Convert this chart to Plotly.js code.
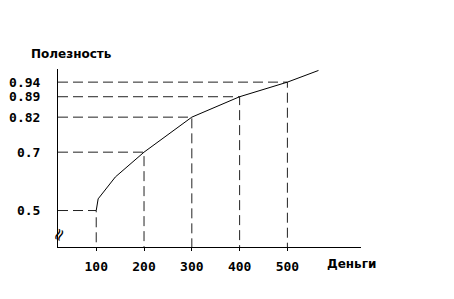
<!DOCTYPE html>
<html><head><meta charset="utf-8">
<script src="https://cdn.plot.ly/plotly-3.0.1.min.js"></script>
<style>html,body{margin:0;padding:0;background:#fff}</style>
</head><body><div id="chart" style="width:454px;height:299px"></div>
<script>
// Money values and utilities
const money = [100, 200, 300, 400, 500];
const utility = [0.5, 0.7, 0.82, 0.89, 0.94];
// hand-drawn curve (estimated reading of the drawn line)
const curveX = [100, 104, 140, 200, 300, 400, 500, 565];
const curveY = [0.5, 0.54, 0.615, 0.7, 0.82, 0.89, 0.94, 0.98];
const xTickLabels = ['100', '200', '300', '400', '500'];
const yTickLabels = ['0.5', '0.7', '0.82', '0.89', '0.94'];

const xMin = 20, xMax = 654, yMin = 0.375, yMax = 0.985;

const dx = [], dy = [];
for (let i = 0; i < money.length; i++) {
  dx.push(xMin, money[i], money[i], null);
  dy.push(utility[i], utility[i], yMin, null);
}

const tickFont = {family: 'DejaVu Sans Mono', size: 13, color: '#000', weight: 'bold'};

const data = [
  {x: dx, y: dy, mode: 'lines', line: {color: '#222', width: 1, dash: '10px,5px'}, hoverinfo: 'skip', connectgaps: false},
  {x: curveX, y: curveY, mode: 'lines', line: {color: '#000', width: 1}, hoverinfo: 'skip'}
];

const layout = {
  width: 454, height: 299,
  margin: {l: 58, r: 93, t: 69, b: 52},
  paper_bgcolor: '#fff', plot_bgcolor: '#fff',
  showlegend: false,
  xaxis: {
    range: [xMin, xMax], showgrid: false, zeroline: false,
    showline: true, linecolor: '#000', linewidth: 1,
    tickvals: money, ticktext: xTickLabels,
    ticks: 'outside', ticklen: 3, tickcolor: '#000',
    tickfont: tickFont, ticklabelstandoff: 4, fixedrange: true
  },
  yaxis: {
    range: [yMin, yMax], showgrid: false, zeroline: false,
    showline: true, linecolor: '#000', linewidth: 1,
    tickvals: utility, ticktext: yTickLabels,
    ticks: '', tickfont: tickFont, ticklabelstandoff: 14, fixedrange: true
  },
  annotations: [
    {text: 'Полезность', xref: 'paper', yref: 'paper', x: 0.043, y: 1.0, yshift: 15,
     xanchor: 'center', yanchor: 'middle', showarrow: false,
     font: {family: 'DejaVu Sans', size: 12, color: '#000', weight: 'bold'}},
    {text: 'Деньги', xref: 'paper', yref: 'paper', x: 0.97, y: 0, yshift: -17,
     xanchor: 'center', yanchor: 'middle', showarrow: false,
     font: {family: 'DejaVu Sans', size: 12, color: '#000', weight: 'bold'}},
    {text: '≈', xref: 'paper', yref: 'paper', x: 0, y: 0.07,
     xanchor: 'center', yanchor: 'middle', showarrow: false, textangle: -65,
     font: {family: 'DejaVu Sans', size: 17, color: '#000'}}
  ]
};

Plotly.newPlot('chart', data, layout, {displayModeBar: false, staticPlot: true});
</script></body></html>
